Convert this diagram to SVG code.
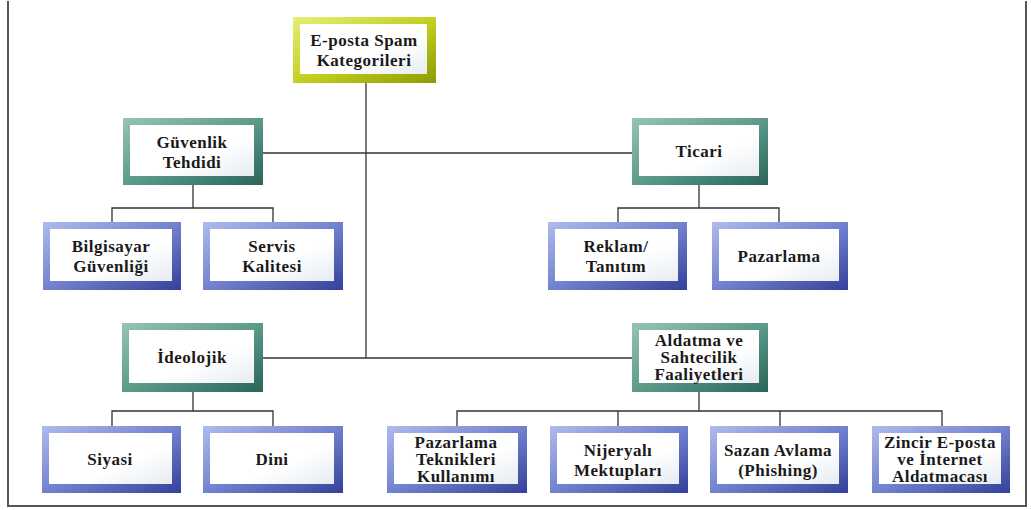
<svg xmlns="http://www.w3.org/2000/svg" width="1031" height="510" viewBox="0 0 1031 510">
<defs>
<linearGradient id="gTeal" x1="0" y1="0" x2="1" y2="1">
<stop offset="0" stop-color="#96c4b7"/><stop offset="0.5" stop-color="#5d9a8a"/><stop offset="1" stop-color="#2a6558"/>
</linearGradient>
<linearGradient id="gBlue" x1="0" y1="0" x2="1" y2="1">
<stop offset="0" stop-color="#b0bbec"/><stop offset="0.5" stop-color="#7282cf"/><stop offset="1" stop-color="#34409a"/>
</linearGradient>
<linearGradient id="gYel" x1="0" y1="0" x2="1" y2="1">
<stop offset="0" stop-color="#e6ee78"/><stop offset="0.5" stop-color="#c4d020"/><stop offset="1" stop-color="#8e9c00"/>
</linearGradient>
<linearGradient id="gIn" x1="0" y1="0" x2="1" y2="1">
<stop offset="0" stop-color="#ffffff"/><stop offset="0.6" stop-color="#ffffff"/><stop offset="1" stop-color="#e6ecf2"/>
</linearGradient>
</defs>
<style>
.teal{fill:url(#gTeal)}
.blue{fill:url(#gBlue)}
.yel{fill:url(#gYel)}
.in{fill:url(#gIn)}
.t{font-family:"Liberation Serif",serif;font-weight:bold;font-size:17px;letter-spacing:0.5px;fill:#1a1a1a;text-anchor:middle}
.c{fill:none;stroke:#333;stroke-width:1.3}
.frame{fill:none;stroke:#555;stroke-width:2}
</style>
<rect x="0" y="0" width="1031" height="510" fill="#fff"/>
<path class="frame" d="M8,1 V506 H1026 V1"/>
<g id="connectors">
<path class="c" d="M366,83 V358"/>
<path class="c" d="M263,153 H632"/>
<path class="c" d="M263,358 H632"/>
<path class="c" d="M193,185 V208 M112,222 V208 H273 V222"/>
<path class="c" d="M699,185 V208 M618,222 V208 H779 V222"/>
<path class="c" d="M193,392 V411 M112,426 V411 H273 V426"/>
<path class="c" d="M699,392 V411 M457,426 V411 H942 V426 M618,411 V426 M780,411 V426"/>
</g>
<g id="root">
<rect class="yel" x="293" y="17" width="143" height="66"/>
<rect class="in" x="300" y="24" width="127" height="50"/>
<text class="t" x="364" y="46">E-posta Spam</text>
<text class="t" x="364" y="66">Kategorileri</text>
</g>
<g id="guvenlik">
<rect class="teal" x="123" y="118" width="140" height="67"/>
<rect class="in" x="130" y="125" width="124" height="51"/>
<text class="t" x="192" y="148">Güvenlik</text>
<text class="t" x="192" y="168">Tehdidi</text>
</g>
<g id="ticari">
<rect class="teal" x="632" y="118" width="136" height="67"/>
<rect class="in" x="639" y="125" width="120" height="51"/>
<text class="t" x="699" y="157">Ticari</text>
</g>
<g id="bilgisayar">
<rect class="blue" x="43" y="222" width="138" height="68"/>
<rect class="in" x="50" y="229" width="122" height="52"/>
<text class="t" x="111" y="252">Bilgisayar</text>
<text class="t" x="111" y="272">Güvenliği</text>
</g>
<g id="servis">
<rect class="blue" x="203" y="222" width="140" height="68"/>
<rect class="in" x="210" y="229" width="124" height="52"/>
<text class="t" x="272" y="252">Servis</text>
<text class="t" x="272" y="272">Kalitesi</text>
</g>
<g id="reklam">
<rect class="blue" x="548" y="222" width="139" height="68"/>
<rect class="in" x="555" y="229" width="123" height="52"/>
<text class="t" x="616" y="252">Reklam/</text>
<text class="t" x="616" y="272">Tanıtım</text>
</g>
<g id="pazarlama">
<rect class="blue" x="712" y="222" width="136" height="68"/>
<rect class="in" x="719" y="229" width="120" height="52"/>
<text class="t" x="779" y="262">Pazarlama</text>
</g>
<g id="ideolojik">
<rect class="teal" x="122" y="323" width="141" height="69"/>
<rect class="in" x="129" y="330" width="125" height="53"/>
<text class="t" x="192" y="363">İdeolojik</text>
</g>
<g id="aldatma">
<rect class="teal" x="632" y="323" width="136" height="69"/>
<rect class="in" x="639" y="330" width="120" height="53"/>
<text class="t" x="699" y="346">Aldatma ve</text>
<text class="t" x="699" y="363">Sahtecilik</text>
<text class="t" x="699" y="380">Faaliyetleri</text>
</g>
<g id="siyasi">
<rect class="blue" x="42" y="426" width="139" height="67"/>
<rect class="in" x="49" y="433" width="123" height="51"/>
<text class="t" x="110" y="465">Siyasi</text>
</g>
<g id="dini">
<rect class="blue" x="203" y="426" width="140" height="67"/>
<rect class="in" x="210" y="433" width="124" height="51"/>
<text class="t" x="272" y="465">Dini</text>
</g>
<g id="pazarlamaTek">
<rect class="blue" x="387" y="426" width="140" height="67"/>
<rect class="in" x="394" y="433" width="124" height="51"/>
<text class="t" x="456" y="448">Pazarlama</text>
<text class="t" x="456" y="465">Teknikleri</text>
<text class="t" x="456" y="482">Kullanımı</text>
</g>
<g id="nijeryali">
<rect class="blue" x="550" y="426" width="138" height="67"/>
<rect class="in" x="557" y="433" width="122" height="51"/>
<text class="t" x="618" y="456">Nijeryalı</text>
<text class="t" x="618" y="476">Mektupları</text>
</g>
<g id="sazan">
<rect class="blue" x="710" y="426" width="138" height="67"/>
<rect class="in" x="717" y="433" width="122" height="51"/>
<text class="t" x="778" y="456">Sazan Avlama</text>
<text class="t" x="778" y="476">(Phishing)</text>
</g>
<g id="zincir">
<rect class="blue" x="872" y="426" width="138" height="67"/>
<rect class="in" x="879" y="433" width="122" height="51"/>
<text class="t" x="940" y="448">Zincir E-posta</text>
<text class="t" x="940" y="465">ve İnternet</text>
<text class="t" x="940" y="482">Aldatmacası</text>
</g>
</svg>
